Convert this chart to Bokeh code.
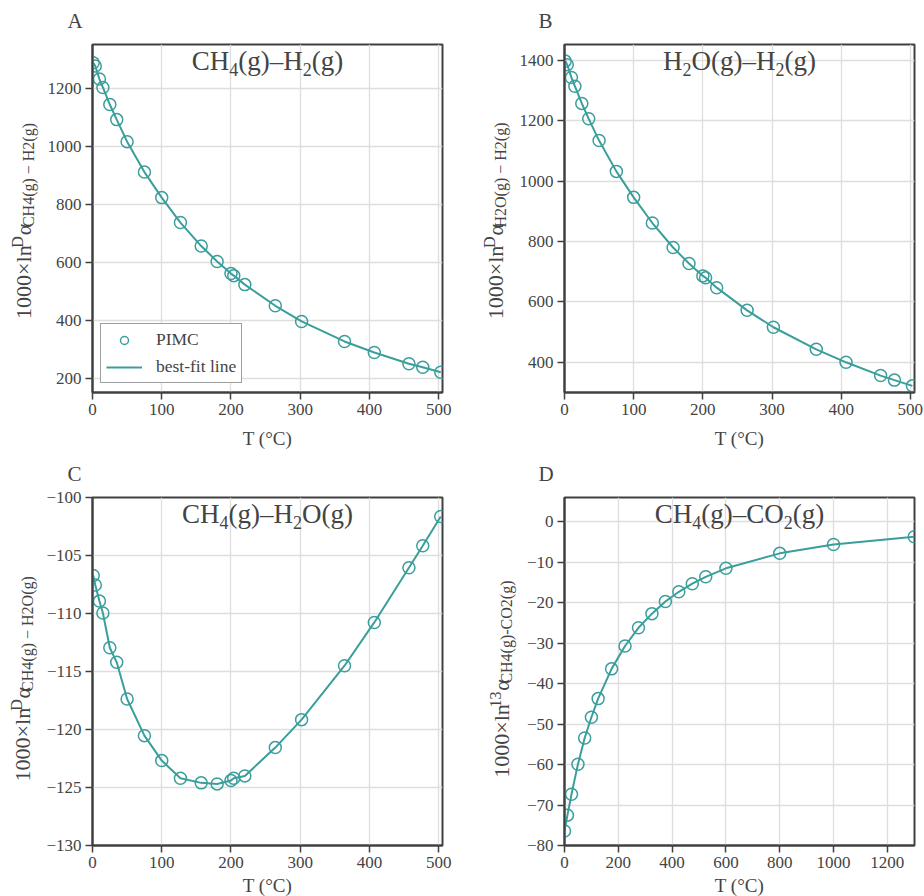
import math
from bokeh.plotting import figure
from bokeh.models import Label, Range1d, Legend, LegendItem, CustomJSTickFormatter, FixedTicker
from bokeh.layouts import column, row
from bokeh.embed import file_html
from bokeh.resources import INLINE

# ---------------- data ----------------
T_dd = [1, 4, 10, 15, 25, 35, 50, 75, 100, 127, 157, 180, 200, 204, 220, 264, 302, 364, 407, 457, 477, 503]
ch4_h2 = [1287, 1276, 1231, 1202, 1143, 1091, 1015, 910, 822, 736, 655, 602, 560, 553, 522, 449, 395, 326, 288, 249, 237, 220]
h2o_h2 = [1397, 1385, 1343, 1314, 1257, 1206, 1134, 1032, 946, 861, 780, 727, 686, 680, 647, 572, 516, 443, 400, 356, 341, 322]
ch4_h2o = [-106.72, -107.55, -108.93, -109.96, -112.95, -114.21, -117.37, -120.53, -122.68, -124.2, -124.6,
           -124.69, -124.4, -124.2, -124.0, -121.56, -119.15, -114.5, -110.77, -106.06, -104.16, -101.64]
T_13c = [0, 11, 26, 50, 75, 100, 125, 175, 225, 275, 325, 375, 425, 475, 525, 600, 800, 1000, 1300]
ch4_co2 = [-76.4, -72.5, -67.35, -59.9, -53.45, -48.3, -43.7, -36.35, -30.7, -26.2, -22.7, -19.7, -17.3,
           -15.3, -13.6, -11.5, -7.8, -5.6, -3.7]

xticks_dd = [0, 100, 200, 300, 400, 500]
xticks_13c = [0, 200, 400, 600, 800, 1000, 1200]
yticks_a = [200, 400, 600, 800, 1000, 1200]
yticks_b = [400, 600, 800, 1000, 1200, 1400]
yticks_c = [-130, -125, -120, -115, -110, -105, -100]
yticks_d = [-80, -70, -60, -50, -40, -30, -20, -10, 0]

TEAL = "#3a9e9b"
TXT = "#444444"
FRAME = "#404040"
GRID = "#dedede"
FONT = "Liberation Serif"
FW, FH = 350, 348
TOP1, TOP2 = 3, 12
BOT1, BOT2 = 34, 31
BSH = 0.3      # baseline correction (em)
VSH = 19       # along-axis correction for rotated labels (px)
GAP = 2

# approximate advance widths (em) for a Times-metric serif font
W = {'0': .5, '1': .5, '2': .5, '3': .5, '4': .5, '5': .5, '6': .5, '7': .5, '8': .5, '9': .5,
     '×': .564, 'l': .278, 'n': .5, 'D': .722, 'α': .55, 'C': .667, 'H': .722, 'O': .722,
     '(': .333, ')': .333, 'g': .5, ' ': .25, '−': .564, '–': .5, '-': .333}


def tw(s, size):
    return sum(W.get(c, .5) for c in s) * size


def lab(p, x, y, t, size, align="left", units="data"):
    p.add_layout(Label(x=x, y=y + BSH * size, x_units=units, y_units=units, text=t,
                       text_font=FONT, text_font_size=f"{size}px", text_color=TXT,
                       text_align=align, text_baseline="alphabetic"))


def vlab(p, x, y, t, size):
    p.add_layout(Label(x=x - BSH * size, y=y, text=t, angle=math.pi / 2,
                       text_font=FONT, text_font_size=f"{size}px", text_color=TXT,
                       text_align="center", text_baseline="alphabetic"))


def hseq(p, pieces, y, center_x):
    total = sum(tw(t, s) for t, s, _ in pieces)
    x = center_x - total / 2
    for t, s, dy in pieces:
        lab(p, x, y + dy, t, s, units="screen")
        x += tw(t, s)


def vseq(p, pieces, xb, center_y):
    total = sum(tw(t, s) for t, s, _ in pieces) + GAP * (len(pieces) - 1)
    y = center_y - total / 2
    for t, s, dy in pieces:
        w = tw(t, s)
        vlab(p, xb - dy, y + w / 2, t, s)
        y += w + GAP


def blank(w, h):
    f = figure(width=w, height=h, x_range=Range1d(0, w), y_range=Range1d(0, h),
               output_backend="svg", toolbar_location=None, min_border=0,
               x_axis_location=None, y_axis_location=None)
    f.outline_line_color = None
    f.grid.visible = False
    f.background_fill_color = "white"
    f.border_fill_color = "white"
    return f


def ylabel_fig(w, top, bot, pieces, xb):
    f = blank(w, top + FH + bot)
    vseq(f, pieces, xb, bot + FH / 2 - VSH)
    return f


def make_panel(xs, ys, xr, yr, xticks, yticks, title, left, right, top, bot, minus=False):
    p = figure(width=left + FW + right, height=top + FH + bot,
               x_range=Range1d(*xr), y_range=Range1d(*yr),
               output_backend="svg", toolbar_location=None,
               min_border_left=left, min_border_right=right,
               min_border_top=top, min_border_bottom=bot)
    p.background_fill_color = "white"
    p.border_fill_color = "white"
    p.outline_line_color = FRAME
    p.outline_line_width = 2
    for ax, ticks in ((p.xaxis[0], xticks), (p.yaxis[0], yticks)):
        ax.ticker = FixedTicker(ticks=ticks)
        ax.axis_line_color = FRAME
        ax.axis_line_width = 2
        ax.major_tick_in = 0
        ax.major_tick_out = 7
        ax.major_tick_line_width = 1.5
        ax.major_tick_line_color = FRAME
        ax.minor_tick_line_color = None
        ax.major_label_text_font = FONT
        ax.major_label_text_font_size = "17px"
        ax.major_label_text_color = TXT
        ax.major_label_standoff = 4
    if minus:
        p.yaxis[0].formatter = CustomJSTickFormatter(
            code="return tick < 0 ? '\u2212' + Math.abs(tick) : String(tick);")
    p.xgrid.grid_line_color = GRID
    p.ygrid.grid_line_color = GRID
    p.xgrid.grid_line_width = 1.3
    p.ygrid.grid_line_width = 1.3

    ln = p.line(xs, ys, line_color=TEAL, line_width=2)
    sc = p.scatter(xs, ys, marker="circle", size=12, fill_color=None,
                   line_color=TEAL, line_width=1.5)
    hseq(p, title, FH - 25, FW / 2)
    return p, ln, sc


YF, SF = 22, 16
TF, TS = 27, 18

pA, lnA, scA = make_panel(
    T_dd, ch4_h2, (0, 505.5), (150, 1350), xticks_dd, yticks_a,
    [("CH", TF, 0), ("4", TS, -5), ("(g)–H", TF, 0), ("2", TS, -5), ("(g)", TF, 0)], 52, 30, TOP1, BOT1)
legend = Legend(items=[LegendItem(label="PIMC", renderers=[scA]),
                       LegendItem(label="best-fit line", renderers=[lnA])],
                location=(8, 9), label_text_font=FONT, label_text_font_size="17.5px",
                label_text_color=TXT, border_line_color=FRAME, border_line_width=1.2,
                glyph_width=36, label_standoff=14, padding=5, spacing=6, margin=0,
                background_fill_alpha=1.0)
pA.add_layout(legend)

pB, _, _ = make_panel(
    T_dd, h2o_h2, (0, 506), (300, 1452), xticks_dd, yticks_b,
    [("H", TF, 0), ("2", TS, -5), ("O(g)–H", TF, 0), ("2", TS, -5), ("(g)", TF, 0)], 50, 10, TOP1, BOT1)

pC, _, _ = make_panel(
    T_dd, ch4_h2o, (0, 505.5), (-130, -100), xticks_dd, yticks_c,
    [("CH", TF, 0), ("4", TS, -5), ("(g)–H", TF, 0), ("2", TS, -5), ("O(g)", TF, 0)], 52, 30, TOP2, BOT2,
    minus=True)

pD, _, _ = make_panel(
    T_13c, ch4_co2, (0, 1301), (-80, 6), xticks_13c, yticks_d,
    [("CH", TF, 0), ("4", TS, -5), ("(g)–CO", TF, 0), ("2", TS, -5), ("(g)", TF, 0)], 44, 10, TOP2, BOT2,
    minus=True)

ylA = ylabel_fig(40, TOP1, BOT1, [("1000×ln", YF, 0), ("D", SF, 8), ("α", YF, 0), ("CH4(g) − H2(g)", SF, -3)], 29.5)
ylB = ylabel_fig(42, TOP1, BOT1, [("1000×ln", YF, 0), ("D", SF, 8), ("α", YF, 0), ("H2O(g) − H2(g)", SF, -3)], 30)
ylC = ylabel_fig(40, TOP2, BOT2, [("1000×ln", YF, 0), ("D", SF, 8), ("α", YF, 0), ("CH4(g) − H2O(g)", SF, -3)], 28.5)
ylD = ylabel_fig(48, TOP2, BOT2, [("1000×ln", YF, 0), ("13", SF, 8), ("α", YF, 0), ("CH4(g)-CO2(g)", SF, -3)], 36)

# strips holding panel letters and x-axis labels
top = blank(924, 44 - TOP1)
lab(top, 67, 14, "A", 21)
lab(top, 538, 14, "B", 21)

mid_h = 497 - TOP2 - (44 + FH + BOT1)
mid = blank(924, mid_h)
lab(mid, 267, mid_h - 18, "T (°C)", 19, align="center")
lab(mid, 739, mid_h - 18, "T (°C)", 19, align="center")
lab(mid, 67, 17 - TOP2, "C", 21)
lab(mid, 538, 17 - TOP2, "D", 21)

bot_h = 896 - (497 + FH + BOT2)
bot = blank(924, bot_h)
lab(bot, 267, 5, "T (°C)", 19, align="center")
lab(bot, 739, 5, "T (°C)", 19, align="center")

layout = column(top, row(ylA, pA, ylB, pB), mid, row(ylC, pC, ylD, pD), bot)
open("out.html", "w").write(file_html(layout, INLINE))
